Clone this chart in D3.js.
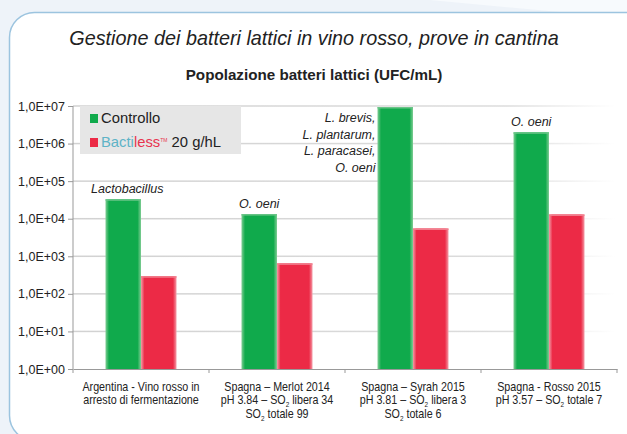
<!DOCTYPE html>
<html><head><meta charset="utf-8">
<script src="https://cdn.jsdelivr.net/npm/d3@7"></script>
<style>
html,body{margin:0;padding:0;background:#eef3f9;}
svg{display:block;}
</style></head>
<body>
<svg id="c" width="627" height="434"></svg>
<script>
const categories = [
  ["Argentina - Vino rosso in", "arresto di fermentazione"],
  ["Spagna \u2013 Merlot 2014", "pH 3.84 \u2013 SO|2| libera 34", "SO|2| totale 99"],
  ["Spagna \u2013 Syrah 2015", "pH 3.81 \u2013 SO|2| libera 3", "SO|2| totale 6"],
  ["Spagna - Rosso 2015", "pH 3.57 \u2013 SO|2| totale 7"]
];
const controllo = [33000, 13300, 9400000, 2000000];
const bactiless = [295, 650, 5500, 13000];
const annotations = [["Lactobacillus"], ["O. oeni"], ["L. brevis,", "L. plantarum,", "L. paracasei,", "O. oeni"], ["O. oeni"]];
const yTicks = [1, 10, 100, 1000, 10000, 100000, 1000000, 10000000];
const yTickLabels = ["1,0E+00","1,0E+01","1,0E+02","1,0E+03","1,0E+04","1,0E+05","1,0E+06","1,0E+07"];
const seriesNames = ["Controllo", "Bactiless"];

const svg = d3.select("#c");
const defs = svg.append("defs");
const FONT = "Liberation Sans, Arial, Helvetica, sans-serif";

// background decoration
svg.append("polygon").attr("points","430,0 627,0 627,40 560,12").attr("fill","#f7fafd");
// panel
svg.append("rect").attr("x",9.5).attr("y",12.5).attr("width",700).attr("height",428).attr("rx",25)
  .attr("fill","#ffffff").attr("stroke","#9cc4df").attr("stroke-width",1.5);

const idx = categories.map((d,i)=>i);
const x0 = d3.scaleBand().domain(idx).range([73, 617]).paddingInner(0).paddingOuter(0);
const x1 = d3.scaleBand().domain(seriesNames).range([0, x0.bandwidth()]).paddingInner(0).paddingOuter(0.915);
const y = d3.scaleLog().domain([1, 1e7]).range([369, 106]);

// gradients
function grad(id, edge, core){
  const g = defs.append("linearGradient").attr("id",id).attr("x1","0").attr("x2","1").attr("y1","0").attr("y2","0");
  [[0,edge],[0.1,core],[0.9,core],[1,edge]].forEach(s=>g.append("stop").attr("offset",s[0]).attr("stop-color",s[1]));
}
grad("gG","#7fcd94","#10aa4c");
grad("gR","#f49aa6","#ec2a46");
const gl = defs.append("linearGradient").attr("id","gl").attr("x1","0").attr("x2","1");
gl.append("stop").attr("offset",0).attr("stop-color","#d2d2d2");
gl.append("stop").attr("offset",0.8).attr("stop-color","#dcdcdc");
gl.append("stop").attr("offset",1).attr("stop-color","#ffffff");

// gridlines
svg.append("g").selectAll("rect").data(yTicks.slice(1)).join("rect")
  .attr("x",73).attr("width",542).attr("y",d=>y(d)-0.75).attr("height",1.5).attr("fill","url(#gl)");

// Titles
svg.append("text").attr("x",314).attr("y",45).attr("text-anchor","middle")
  .attr("font-family",FONT).attr("font-style","italic").attr("font-size",19.8).attr("fill","#222")
  .text("Gestione dei batteri lattici in vino rosso, prove in cantina");
svg.append("text").attr("x",314).attr("y",80).attr("text-anchor","middle")
  .attr("font-family",FONT).attr("font-weight","bold").attr("font-size",15.2).attr("fill","#222")
  .text("Popolazione batteri lattici (UFC/mL)");

// y axis
const yAxis = d3.axisLeft(y).tickValues(yTicks).tickFormat((d,i)=>yTickLabels[i]).tickSize(5).tickPadding(3);
const ga = svg.append("g").attr("transform","translate(73,0)").call(yAxis);
ga.select(".domain").attr("stroke","#999").attr("d","M0,106V369");
ga.selectAll(".tick line").attr("stroke","#999");
ga.selectAll(".tick text").attr("font-family",FONT).attr("font-size",12.5).attr("fill","#222");

// bars
const gb = svg.append("g");
idx.forEach(i=>{
  const vals = [controllo[i], bactiless[i]];
  vals.forEach((v,j)=>{
    const xx = x0(i) + x1(seriesNames[j]);
    gb.append("rect").attr("x",xx).attr("width",x1.bandwidth()).attr("y",y(v)).attr("height",y(1)-y(v))
      .attr("fill", j===0 ? "url(#gG)" : "url(#gR)");
    gb.append("rect").attr("x",xx).attr("width",x1.bandwidth()).attr("y",y(v)).attr("height",1.5)
      .attr("fill", j===0 ? "#6cc589" : "#f2808f");
  });
});

// x axis
const xAxis = d3.axisBottom(x0).tickSize(0).tickFormat("");
const gx = svg.append("g").attr("transform","translate(0,369)").call(xAxis);
gx.select(".domain").attr("stroke","#999");
gx.selectAll(".tick").remove();
gx.selectAll("line.sep").data(idx.map(i=>x0(i)+x0.bandwidth()).concat([73])).join("line").attr("class","sep")
  .attr("x1",d=>d).attr("x2",d=>d).attr("y1",0).attr("y2",4).attr("stroke","#999");

// x labels (condensed)
idx.forEach(i=>{
  const cx = x0(i) + x0.bandwidth()/2;
  const g = svg.append("g").attr("transform",`translate(${cx},0) scale(0.8,1)`);
  categories[i].forEach((line,k)=>{
    const base = 390.7 + k*13.8;
    const t = g.append("text").attr("text-anchor","middle").attr("x",0).attr("y",base)
      .attr("font-family",FONT).attr("font-size",13.4).attr("fill","#222");
    const parts = line.split("|");
    parts.forEach((p,pi)=>{
      if(p==="") return;
      const sp = t.append("tspan").text(p);
      if(pi%2===1){ sp.attr("font-size",8).attr("dy",2.5); }
      else if(pi>0){ sp.attr("dy",-2.5); }
    });
  });
});

// annotations
idx.forEach(i=>{
  const xx = x0(i) + x1(seriesNames[0]);
  const lines = annotations[i];
  const t = svg.append("text").attr("font-family",FONT).attr("font-style","italic")
    .attr("font-size",12.5).attr("fill","#222");
  if(lines.length===1){
    t.attr("text-anchor","middle").attr("x", xx + x1.bandwidth()/2 + (i===0?4:0)).attr("y", y(controllo[i]) - 6.5).text(lines[0]);
  } else {
    t.attr("text-anchor","end");
    lines.forEach((l,k)=>t.append("tspan").attr("x", xx-2).attr("y", 122 + k*16.7).text(l));
  }
});

// legend
const lg = svg.append("g");
lg.append("rect").attr("x",80).attr("y",106).attr("width",161).attr("height",48).attr("fill","#e6e6e6");
lg.append("rect").attr("x",90).attr("y",114).attr("width",8).attr("height",9).attr("fill","#10aa4c");
lg.append("rect").attr("x",90).attr("y",138).attr("width",8).attr("height",9).attr("fill","#ec2a46");
lg.append("text").attr("x",101).attr("y",123).attr("font-family",FONT).attr("font-size",14.8).attr("fill","#222").text(seriesNames[0]);
const lt = lg.append("text").attr("x",101).attr("y",147).attr("font-family",FONT).attr("font-size",14.8).attr("fill","#222");
lt.append("tspan").attr("fill","#5fb3c6").text("Bacti");
lt.append("tspan").attr("fill","#e8344f").text("less");
lt.append("tspan").attr("font-size",5).attr("dy",-5).attr("fill","#e8344f").text("TM");
lt.append("tspan").attr("dy",5).text(" 20 g/hL");
</script>
</body></html>
